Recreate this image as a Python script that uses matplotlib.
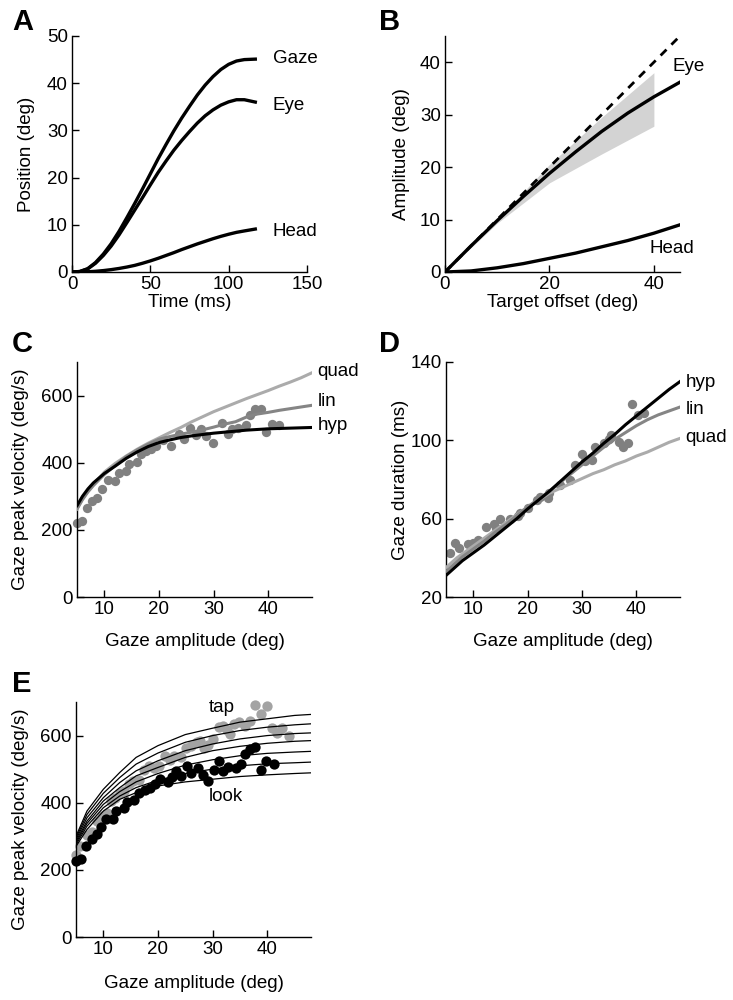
import matplotlib
matplotlib.use("Agg")
import matplotlib.pyplot as plt
import numpy as np

plt.rcParams['font.family'] = ['Liberation Sans', 'DejaVu Sans']
FS = 13.5

# ---------------- Panel A data ----------------
a_time = [0, 5, 10, 15, 20, 25, 30, 35, 40, 45, 50, 55, 60, 65, 70, 75, 80, 85, 90, 95, 100, 105, 110, 117]
a_gaze = [0, 0.1, 0.7, 2.0, 3.8, 6.0, 8.6, 11.5, 14.5, 17.6, 20.8, 24.0, 27.0, 29.9, 32.6, 35.1, 37.5, 39.6,
          41.4, 42.9, 44.0, 44.7, 45.0, 45.1]
a_eye = [0, 0.1, 0.65, 1.85, 3.5, 5.5, 7.85, 10.45, 13.1, 15.75, 18.45, 21.1, 23.5, 25.8, 27.85, 29.75, 31.55,
         33.1, 34.35, 35.35, 36.05, 36.5, 36.5, 36.0]
a_head = [0, 0, 0.05, 0.15, 0.3, 0.5, 0.75, 1.05, 1.4, 1.85, 2.35, 2.9, 3.5, 4.1, 4.75, 5.35, 5.95, 6.5,
          7.05, 7.55, 8.0, 8.4, 8.7, 9.1]

# ---------------- Panel B data ----------------
b_offset = [0, 5, 10, 15, 20, 25, 30, 35, 40, 45]
b_eye = [0, 5, 9.8, 14.4, 18.8, 22.9, 26.8, 30.3, 33.4, 36.2]
b_head = [0, 0.2, 0.8, 1.6, 2.6, 3.6, 4.8, 6, 7.4, 9]
b_band_x = [0, 10, 20, 30, 40]
b_band_hi = [0, 10, 20.5, 29.5, 38]
b_band_lo = [0, 9.3, 17, 22.5, 27.8]

# ---------------- Panel C data ----------------
c_x = [5, 6, 7, 8, 10, 12, 14, 16, 18, 20, 22, 24, 26, 28, 30, 32, 34, 36, 38, 40, 42, 44, 46, 48]
c_hyp = [272, 300, 322, 340, 368, 390, 413, 432, 448, 460, 468, 475, 480, 484, 488, 491, 494, 497, 499, 501, 502, 503, 504, 505]
c_lin = [262, 290, 313, 332, 365, 392, 418, 438, 455, 470, 478, 485, 491, 498, 506, 515, 522, 536, 545, 550, 556, 561, 566, 571]
c_quad = [262, 292, 315, 335, 372, 398, 420, 440, 458, 474, 490, 505, 522, 537, 552, 565, 578, 591, 603, 615, 628, 640, 653, 668]
c_pts_x = [5.0, 6.0, 6.9, 7.8, 8.7, 9.6, 10.6, 12.0, 12.6, 14.0, 14.5, 16.0, 16.8, 17.7, 18.6, 19.4,
           20.7, 22.2, 23.7, 24.6, 25.7, 26.8, 27.7, 28.6, 29.8, 31.5, 32.7, 33.4, 34.5, 35.9,
           36.6, 37.5, 38.6, 39.5, 40.7, 41.9]
c_pts_y = [221, 225, 264, 286, 296, 321, 348, 346, 369, 376, 395, 401, 426, 434, 441, 451,
           469, 451, 486, 471, 503, 483, 499, 479, 458, 519, 486, 501, 504, 511,
           541, 559, 561, 491, 516, 513]

# ---------------- Panel D data ----------------
d_x = c_x
d_hyp = [31, 33.5, 36, 38.5, 42.5, 46.5, 51, 55.5, 60, 65, 69.5, 74, 79, 84, 89, 93.5, 98.5, 103, 108, 112.5, 117, 121.5, 126, 130]
d_lin = [33, 35.5, 38, 40.5, 44.5, 48.5, 53, 57, 61.5, 66, 70, 74, 78.5, 83, 87.5, 92, 96.5, 100.5, 104, 107.5, 110.5, 113, 115, 117]
d_quad = [35, 37.5, 40, 42, 46, 50, 54, 58, 62, 66, 69.5, 73, 75.5, 78, 80.5, 83, 85, 87.5, 89.5, 92, 94, 96.5, 99, 101]
d_pts_x = [5.7, 6.6, 7.35, 9.0, 9.9, 10.8, 12.3, 13.8, 14.1, 15.0, 16.8, 18.3, 18.6, 20.1, 21.7, 22.3,
           23.7, 24.0, 25.9, 27.7, 28.7, 29.9, 30.6, 31.9, 32.4, 34.0, 34.9, 35.4, 36.7, 37.6,
           38.5, 39.1, 40.3, 41.4]
d_pts_y = [42.3, 47.7, 44.9, 47.1, 47.7, 49.1, 55.9, 57.3, 55.1, 59.7, 60.0, 61.5, 62.7, 65.6, 69.5, 71.3,
           70.4, 72.9, 77.2, 79.8, 87.4, 92.9, 89.5, 90.0, 96.5, 98.5, 100.6, 102.7, 99.3, 96.5,
           98.8, 118.4, 113.0, 114.1]

# ---------------- Panel E data ----------------
e_x = [5, 7, 10, 13, 16, 20, 25, 30, 35, 40, 45, 48]
e_curve1 = [300, 375, 440, 490, 535, 570, 603, 622, 640, 650, 660, 663]
e_curve2 = [295, 365, 428, 475, 515, 548, 580, 600, 615, 625, 632, 635]
e_curve3 = [290, 355, 415, 460, 495, 525, 555, 575, 590, 600, 606, 608]
e_curve4 = [285, 345, 405, 445, 480, 505, 535, 555, 568, 577, 583, 585]
e_curve5 = [280, 338, 395, 433, 462, 487, 512, 528, 540, 547, 551, 553]
e_curve6 = [275, 330, 385, 420, 445, 467, 487, 500, 510, 516, 519, 521]
e_curve7 = [270, 320, 375, 410, 430, 450, 462, 470, 478, 483, 487, 489]
e_look_x = [5.0, 5.9, 6.8, 7.85, 8.8, 9.5, 10.45, 11.8, 12.4, 13.8, 14.3, 15.7, 16.6, 17.7, 18.6, 19.4,
            20.3, 21.8, 22.6, 23.3, 24.2, 25.3, 26.0, 27.4, 28.3, 29.2, 30.3, 31.1, 31.9, 32.9,
            34.2, 35.1, 36.0, 36.8, 37.8, 38.9, 39.8, 41.2]
e_look_y = [227, 232, 270, 292, 307, 327, 351, 351, 374, 384, 401, 409, 429, 437, 444, 457,
            472, 461, 477, 494, 479, 508, 488, 503, 484, 464, 496, 523, 494, 507,
            504, 516, 545, 560, 566, 496, 523, 516]
e_tap_x = [5.0, 5.7, 7.1, 7.85, 8.8, 9.7, 10.6, 11.4, 12.1, 13.0, 13.7, 14.7, 15.4, 16.5, 17.4, 18.3,
           19.2, 20.1, 21.3, 22.2, 23.0, 24.2, 25.1, 26.1, 27.1, 27.7, 28.5, 29.2, 30.1, 31.1,
           31.9, 32.6, 33.2, 34.0, 34.9, 36.0, 36.8, 37.8, 38.9, 40.0, 40.9, 41.8, 42.7, 43.9]
e_tap_y = [245, 272, 304, 314, 347, 359, 369, 404, 414, 429, 436, 457, 464, 469, 496, 508,
           503, 510, 540, 528, 538, 537, 563, 570, 580, 583, 563, 573, 590, 626,
           628, 618, 606, 633, 640, 630, 643, 692, 663, 688, 623, 608, 623, 600]

W, H = 733, 1000
fig = plt.figure(figsize=(W / 100, H / 100), dpi=100)


def add_ax(left, right, top, bottom):
    return fig.add_axes([left / W, 1 - bottom / H, (right - left) / W, (bottom - top) / H])


def style(ax):
    for s in ['top', 'right']:
        ax.spines[s].set_visible(False)
    for s in ['left', 'bottom']:
        ax.spines[s].set_linewidth(1.0)
    ax.tick_params(direction='in', length=5, width=1.0, labelsize=FS, pad=3)


def place_labels(ax, xlabel, ylabel, ylab_right_px, xlab_top_px):
    ax.set_xlabel(xlabel, fontsize=FS)
    ax.set_ylabel(ylabel, fontsize=FS)
    pos = ax.get_position()
    ax.yaxis.set_label_coords(ylab_right_px / W, pos.y0 + pos.height / 2, transform=fig.transFigure)
    ax.xaxis.set_label_coords(pos.x0 + pos.width / 2, 1 - xlab_top_px / H, transform=fig.transFigure)


GRAY_PT = '#808080'
LIN = '#858585'
QUAD = '#ababab'
TAP = '#a3a3a3'

# Panel A
axA = add_ax(72, 307, 36, 272)
style(axA)
axA.plot(a_time, a_gaze, color='k', lw=2.4)
axA.plot(a_time, a_eye, color='k', lw=2.4)
axA.plot(a_time, a_head, color='k', lw=2.4)
axA.set_xlim(0, 150)
axA.set_ylim(0, 50)
axA.set_xticks([0, 50, 100, 150])
axA.set_yticks([0, 10, 20, 30, 40, 50])
place_labels(axA, 'Time (ms)', 'Position (deg)', 35, 294)
axA.text(128, 45.3, 'Gaze', fontsize=FS, va='center')
axA.text(128, 35.2, 'Eye', fontsize=FS, va='center')
axA.text(128, 8.5, 'Head', fontsize=FS, va='center')

# Panel B
axB = add_ax(445, 680, 36, 272)
style(axB)
axB.fill_between(b_band_x, b_band_lo, b_band_hi, color='#d3d3d3', lw=0)
axB.plot([0, 45], [0, 45], color='k', lw=2.0, ls=(0, (3, 2.5)))
axB.plot(b_offset, b_eye, color='k', lw=2.4)
axB.plot(b_offset, b_head, color='k', lw=2.4)
axB.set_xlim(0, 45)
axB.set_ylim(0, 45)
axB.set_xticks([0, 20, 40])
axB.set_yticks([0, 10, 20, 30, 40])
place_labels(axB, 'Target offset (deg)', 'Amplitude (deg)', 410, 294)
axB.text(43.6, 39.1, 'Eye', fontsize=FS, va='center', clip_on=False)
axB.text(39.2, 4.5, 'Head', fontsize=FS, va='center')

# Panel C
axC = add_ax(77, 312, 362, 597)
style(axC)
axC.scatter(c_pts_x, c_pts_y, s=45, color=GRAY_PT, lw=0, zorder=2, clip_on=False)
axC.plot(c_x, c_quad, color=QUAD, lw=2.2, zorder=3)
axC.plot(c_x, c_lin, color=LIN, lw=2.2, zorder=3)
axC.plot(c_x, c_hyp, color='k', lw=2.2, zorder=4)
axC.set_xlim(5, 48)
axC.set_ylim(0, 700)
axC.set_xticks([10, 20, 30, 40])
axC.set_yticks([0, 200, 400, 600])
place_labels(axC, 'Gaze amplitude (deg)', 'Gaze peak velocity (deg/s)', 29, 633)
axC.text(49, 672, 'quad', fontsize=FS, va='center', clip_on=False)
axC.text(49, 582, 'lin', fontsize=FS, va='center', clip_on=False)
axC.text(49, 510, 'hyp', fontsize=FS, va='center', clip_on=False)

# Panel D
axD = add_ax(446, 680, 362, 597)
style(axD)
axD.scatter(d_pts_x, d_pts_y, s=45, color=GRAY_PT, lw=0, zorder=2)
axD.plot(d_x, d_quad, color=QUAD, lw=2.2, zorder=3)
axD.plot(d_x, d_lin, color=LIN, lw=2.2, zorder=3)
axD.plot(d_x, d_hyp, color='k', lw=2.2, zorder=4)
axD.set_xlim(5, 48)
axD.set_ylim(20, 140)
axD.set_xticks([10, 20, 30, 40])
axD.set_yticks([20, 60, 100, 140])
place_labels(axD, 'Gaze amplitude (deg)', 'Gaze duration (ms)', 409, 633)
axD.text(49, 129.3, 'hyp', fontsize=FS, va='center', clip_on=False)
axD.text(49, 116, 'lin', fontsize=FS, va='center', clip_on=False)
axD.text(49, 101.7, 'quad', fontsize=FS, va='center', clip_on=False)

# Panel E
axE = add_ax(76, 311, 702, 937)
style(axE)
for cv in [e_curve1, e_curve2, e_curve3, e_curve4, e_curve5, e_curve6, e_curve7]:
    axE.plot(e_x, cv, color='k', lw=0.9, zorder=3)
axE.scatter(e_tap_x, e_tap_y, s=55, color=TAP, lw=0, zorder=2, clip_on=False)
axE.scatter(e_look_x, e_look_y, s=55, color='k', lw=0, zorder=2, clip_on=False)
axE.set_xlim(5, 48)
axE.set_ylim(0, 700)
axE.set_xticks([10, 20, 30, 40])
axE.set_yticks([0, 200, 400, 600])
place_labels(axE, 'Gaze amplitude (deg)', 'Gaze peak velocity (deg/s)', 29, 975)
axE.text(29.3, 683, 'tap', fontsize=FS, va='center')
axE.text(29.3, 418, 'look', fontsize=FS, va='center')

# Panel letters
for lbl, x, y in [('A', 12, 8), ('B', 379, 8), ('C', 12, 330), ('D', 379, 330), ('E', 12, 670)]:
    fig.text(x / W, 1 - y / H, lbl, fontsize=21, fontweight='bold', va='top', ha='left')

fig.savefig('out.png', dpi=100)
